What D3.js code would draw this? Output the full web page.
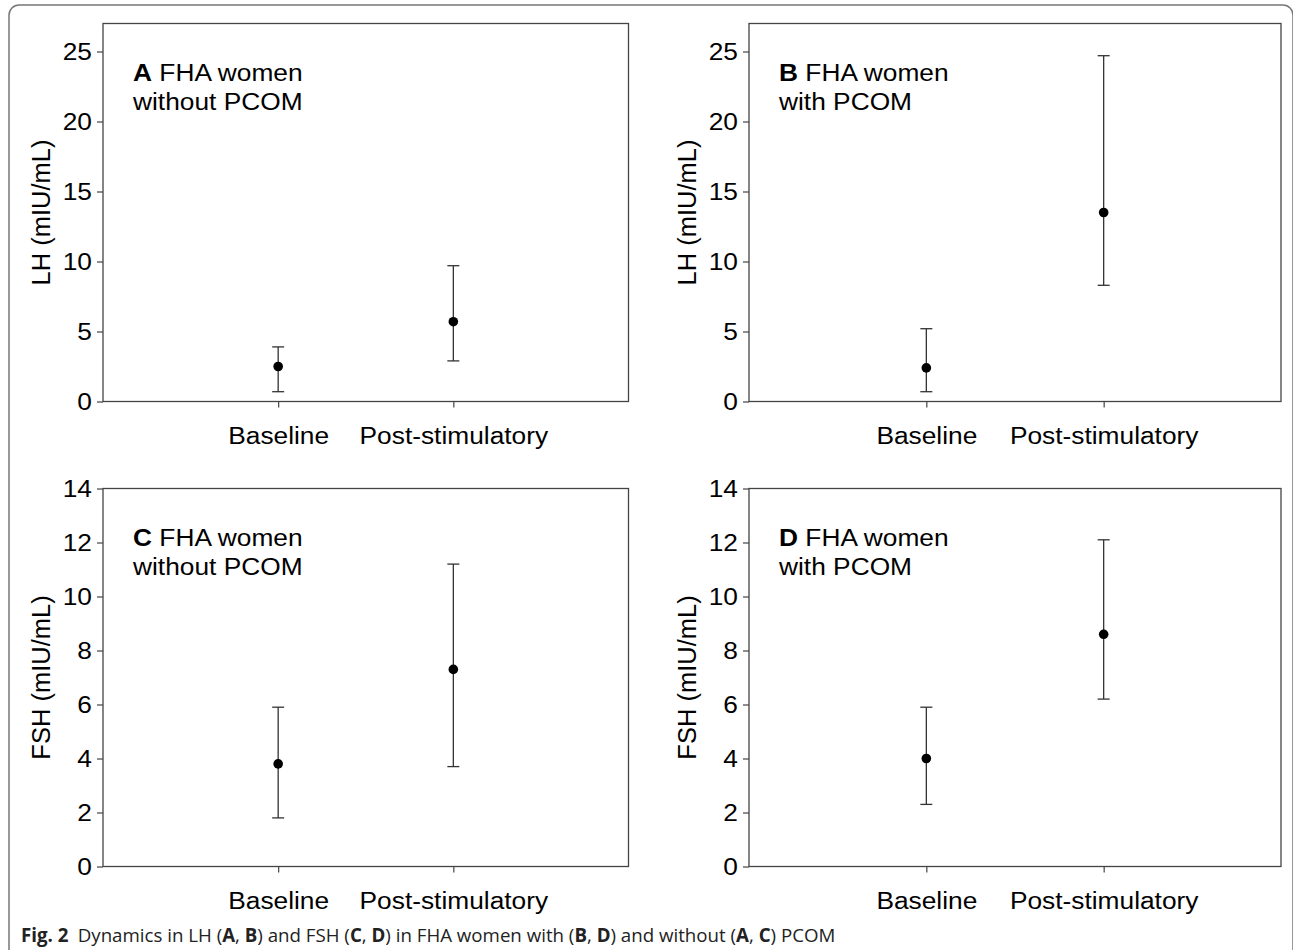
<!DOCTYPE html>
<html>
<head>
<meta charset="utf-8">
<script src="https://cdn.jsdelivr.net/npm/d3@7"></script>
<style>
  body { margin: 0; background: #fff; }
  svg { display: block; }
</style>
</head>
<body>
<div id="chart"></div>
<script>
// Données
const categories = ["Baseline", "Post-stimulatory"];
const lhTicks = [0, 5, 10, 15, 20, 25];
const fshTicks = [0, 2, 4, 6, 8, 10, 12, 14];

const lhWithoutMean = [2.5, 5.7];
const lhWithoutLower = [0.7, 2.9];
const lhWithoutUpper = [3.9, 9.7];

const lhWithMean = [2.4, 13.5];
const lhWithLower = [0.7, 8.3];
const lhWithUpper = [5.2, 24.7];

const fshWithoutMean = [3.8, 7.3];
const fshWithoutLower = [1.8, 3.7];
const fshWithoutUpper = [5.9, 11.2];

const fshWithMean = [4.0, 8.6];
const fshWithLower = [2.3, 6.2];
const fshWithUpper = [5.9, 12.1];

const W = 1293, H = 950;
const axisColor = "#444";
const font = "'Liberation Sans', Arial, Helvetica, sans-serif";
const stretch = 1.12; // le texte de la figure d'origine est un peu étiré en largeur

const svg = d3.select("#chart")
    .append("svg")
    .attr("width", W)
    .attr("height", H);

// Cadre extérieur (coins arrondis en haut)
svg.append("path")
    .attr("d", "M9,952 V15 A10,10 0 0 1 19,5 H1283 A10,10 0 0 1 1293,15 V952")
    .attr("fill", "none")
    .attr("stroke", "#777")
    .attr("stroke-width", 1.5);

// Panneaux
const panels = [
    { letter: "A", line1: " FHA women", line2: "without PCOM", yTitle: "LH (mIU/mL)",
      ticks: lhTicks, yMax: 27, mean: lhWithoutMean, lower: lhWithoutLower, upper: lhWithoutUpper,
      x0: 103, x1: 628.5, y0: 23.5, y1: 401.5 },
    { letter: "B", line1: " FHA women", line2: "with PCOM", yTitle: "LH (mIU/mL)",
      ticks: lhTicks, yMax: 27, mean: lhWithMean, lower: lhWithLower, upper: lhWithUpper,
      x0: 749, x1: 1281, y0: 23.5, y1: 401.5 },
    { letter: "C", line1: " FHA women", line2: "without PCOM", yTitle: "FSH (mIU/mL)",
      ticks: fshTicks, yMax: 14, mean: fshWithoutMean, lower: fshWithoutLower, upper: fshWithoutUpper,
      x0: 103, x1: 628.5, y0: 488.5, y1: 866.5 },
    { letter: "D", line1: " FHA women", line2: "with PCOM", yTitle: "FSH (mIU/mL)",
      ticks: fshTicks, yMax: 14, mean: fshWithMean, lower: fshWithLower, upper: fshWithUpper,
      x0: 749, x1: 1281, y0: 488.5, y1: 866.5 }
];

panels.forEach(p => {
    const g = svg.append("g");

    const x = d3.scalePoint()
        .domain(categories)
        .range([p.x0, p.x1])
        .padding(1);

    const y = d3.scaleLinear()
        .domain([0, p.yMax])
        .range([p.y1, p.y0]);

    // Boîte du graphique
    g.append("rect")
        .attr("x", p.x0)
        .attr("y", p.y0)
        .attr("width", p.x1 - p.x0)
        .attr("height", p.y1 - p.y0)
        .attr("fill", "none")
        .attr("stroke", axisColor)
        .attr("stroke-width", 1.3);

    // Axe Y
    const yAxis = g.append("g")
        .attr("transform", `translate(${p.x0},0)`)
        .call(d3.axisLeft(y).tickValues(p.ticks).tickSize(6).tickPadding(5));
    yAxis.select(".domain").remove();
    yAxis.selectAll("line").attr("stroke", axisColor).attr("stroke-width", 1.2);
    yAxis.selectAll("text")
        .attr("x", 0)
        .attr("transform", `translate(-11,0) scale(${stretch},1)`)
        .attr("fill", "#000")
        .style("font-family", font)
        .style("font-size", "23.5px");

    // Axe X
    const xAxis = g.append("g")
        .attr("transform", `translate(0,${p.y1})`)
        .call(d3.axisBottom(x).tickSize(6));
    xAxis.select(".domain").remove();
    xAxis.selectAll("line").attr("stroke", axisColor).attr("stroke-width", 1.2);
    xAxis.selectAll("text")
        .attr("y", 0)
        .attr("dy", null)
        .attr("transform", `translate(0,42) scale(${stretch},1)`)
        .attr("fill", "#000")
        .style("font-family", font)
        .style("font-size", "23.5px");

    // Titre de l'axe Y
    g.append("text")
        .attr("transform", `translate(${p.x0 - 53},${(p.y0 + p.y1) / 2}) rotate(-90)`)
        .attr("text-anchor", "middle")
        .style("font-family", font)
        .style("font-size", "25.5px")
        .text(p.yTitle);

    // Annotation du panneau
    const note = g.append("text")
        .attr("transform", `translate(${p.x0 + 30},${p.y0 + 57.5}) scale(${stretch},1)`)
        .style("font-family", font)
        .style("font-size", "23.5px");
    note.append("tspan").attr("font-weight", "bold").text(p.letter);
    note.append("tspan").text(p.line1);
    g.append("text")
        .attr("transform", `translate(${p.x0 + 30},${p.y0 + 86}) scale(${stretch},1)`)
        .style("font-family", font)
        .style("font-size", "23.5px")
        .text(p.line2);

    // Barres d'erreur et points
    const rows = categories.map((c, i) => ({ cat: c, mean: p.mean[i], lo: p.lower[i], hi: p.upper[i] }));
    const capW = 6;

    g.selectAll(".err")
        .data(rows)
        .enter()
        .append("line")
        .attr("x1", d => x(d.cat))
        .attr("x2", d => x(d.cat))
        .attr("y1", d => y(d.lo))
        .attr("y2", d => y(d.hi))
        .attr("stroke", "#333")
        .attr("stroke-width", 1.3);

    ["lo", "hi"].forEach(k => {
        g.selectAll(".cap-" + k)
            .data(rows)
            .enter()
            .append("line")
            .attr("x1", d => x(d.cat) - capW)
            .attr("x2", d => x(d.cat) + capW)
            .attr("y1", d => y(d[k]))
            .attr("y2", d => y(d[k]))
            .attr("stroke", "#333")
            .attr("stroke-width", 1.3);
    });

    g.selectAll("circle")
        .data(rows)
        .enter()
        .append("circle")
        .attr("cx", d => x(d.cat))
        .attr("cy", d => y(d.mean))
        .attr("r", 4.8)
        .attr("fill", "#000");
});

// Légende de la figure
const caption = svg.append("text")
    .attr("x", 21)
    .attr("y", 942)
    .style("font-family", "'Open Sans', 'Noto Sans', sans-serif")
    .style("font-size", "18.7px")
    .attr("fill", "#222");

const captionParts = [
    ["Fig. 2", true], ["\u2002Dynamics in LH (", false], ["A", true], [", ", false], ["B", true],
    [") and FSH (", false], ["C", true], [", ", false], ["D", true], [") in FHA women with (", false],
    ["B", true], [", ", false], ["D", true], [") and without (", false], ["A", true], [", ", false],
    ["C", true], [") PCOM", false]
];
captionParts.forEach(([t, b]) => {
    caption.append("tspan")
        .attr("font-weight", b ? "bold" : null)
        .text(t);
});
</script>
</body>
</html>
